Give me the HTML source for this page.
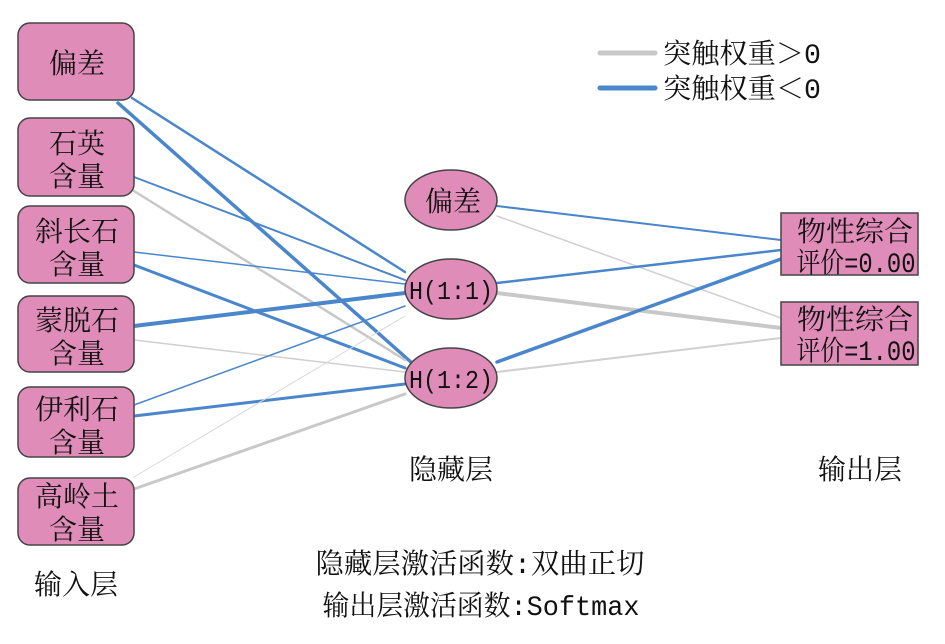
<!DOCTYPE html>
<html><head><meta charset="utf-8"><style>
html,body{margin:0;padding:0;background:#fff;}
svg{display:block;}
text{font-family:"Liberation Mono","Noto Serif CJK SC",serif;fill:#111;}
</style></head><body>
<svg width="945" height="644" viewBox="0 0 945 644" xmlns="http://www.w3.org/2000/svg">
<g fill="none" stroke-linecap="round">
<line x1="132" y1="98" x2="405" y2="272" stroke="#4a86cc" stroke-width="2.5"/>
<line x1="118" y1="103" x2="412" y2="363" stroke="#4a86cc" stroke-width="3.5"/>
<line x1="134" y1="177" x2="405" y2="280" stroke="#4a86cc" stroke-width="2"/>
<line x1="134" y1="191" x2="405" y2="360" stroke="#c8c8c8" stroke-width="2.5"/>
<line x1="134" y1="252" x2="405" y2="284" stroke="#4a86cc" stroke-width="1.5"/>
<line x1="134" y1="265" x2="405" y2="368" stroke="#4a86cc" stroke-width="3"/>
<line x1="134" y1="326" x2="405" y2="293" stroke="#4a86cc" stroke-width="4"/>
<line x1="134" y1="340" x2="405" y2="372" stroke="#d0d0d0" stroke-width="1.5"/>
<line x1="134" y1="405" x2="405" y2="306" stroke="#4a86cc" stroke-width="1.5"/>
<line x1="134" y1="416" x2="405" y2="384" stroke="#4a86cc" stroke-width="3"/>
<line x1="134" y1="477" x2="405" y2="316" stroke="#d8d8d8" stroke-width="1"/>
<line x1="134" y1="489" x2="405" y2="394" stroke="#c8c8c8" stroke-width="3"/>
<line x1="497" y1="206" x2="781" y2="240" stroke="#4a86cc" stroke-width="2"/>
<line x1="497" y1="216" x2="781" y2="318" stroke="#d0d0d0" stroke-width="1.5"/>
<line x1="497" y1="283" x2="781" y2="250" stroke="#4a86cc" stroke-width="2.5"/>
<line x1="497" y1="293" x2="781" y2="328" stroke="#c8c8c8" stroke-width="4"/>
<line x1="497" y1="362" x2="781" y2="259" stroke="#4a86cc" stroke-width="3.5"/>
<line x1="497" y1="372" x2="781" y2="338" stroke="#d0d0d0" stroke-width="2"/>
<line x1="600" y1="53" x2="655" y2="53" stroke="#c8c8c8" stroke-width="5"/>
<line x1="600" y1="88" x2="655" y2="88" stroke="#4a86cc" stroke-width="5"/>
</g>
<g fill="#e08cb8" stroke="#444" stroke-width="1.5">
<rect x="18" y="23" width="116" height="77" rx="12"/>
<rect x="18" y="118" width="116" height="78" rx="12"/>
<rect x="18" y="206" width="116" height="77" rx="12"/>
<rect x="18" y="296" width="116" height="76" rx="12"/>
<rect x="18" y="387" width="116" height="70" rx="12"/>
<rect x="18" y="478" width="116" height="67" rx="12"/>
<ellipse cx="451" cy="200" rx="46" ry="30"/>
<ellipse cx="451" cy="289" rx="46" ry="30"/>
<ellipse cx="451" cy="378" rx="46" ry="30"/>
<rect x="781" y="213" width="137" height="62"/>
<rect x="781" y="302" width="137" height="63"/>
</g>
<g font-size="28" text-anchor="middle">
<text x="77" y="73">偏差</text>
<text x="77" y="153">石英</text>
<text x="77" y="186">含量</text>
<text x="77" y="241">斜长石</text>
<text x="77" y="274">含量</text>
<text x="77" y="330">蒙脱石</text>
<text x="77" y="363">含量</text>
<text x="77" y="419">伊利石</text>
<text x="77" y="452">含量</text>
<text x="77" y="506">高岭土</text>
<text x="77" y="539">含量</text>
<text x="453" y="211">偏差</text>
<text x="451" y="299" font-size="26" textLength="84" lengthAdjust="spacingAndGlyphs">H(1:1)</text>
<text x="451" y="388" font-size="26" textLength="84" lengthAdjust="spacingAndGlyphs">H(1:2)</text>
<text x="855" y="241" textLength="116" lengthAdjust="spacingAndGlyphs">物性综合</text>
<text x="856" y="272" textLength="119" lengthAdjust="spacingAndGlyphs">评价=0.00</text>
<text x="855" y="329" textLength="116" lengthAdjust="spacingAndGlyphs">物性综合</text>
<text x="856" y="360" textLength="119" lengthAdjust="spacingAndGlyphs">评价=1.00</text>
<text x="451" y="479">隐藏层</text>
<text x="860" y="479">输出层</text>
<text x="76" y="594">输入层</text>
<text x="480" y="573" textLength="329" lengthAdjust="spacingAndGlyphs">隐藏层激活函数:双曲正切</text>
<text x="481" y="615" textLength="317" lengthAdjust="spacingAndGlyphs">输出层激活函数:Softmax</text>
</g>
<g font-size="28">
<text x="663" y="63" textLength="158" lengthAdjust="spacingAndGlyphs">突触权重＞0</text>
<text x="663" y="98" textLength="158" lengthAdjust="spacingAndGlyphs">突触权重＜0</text>
</g>
</svg>
</body></html>
